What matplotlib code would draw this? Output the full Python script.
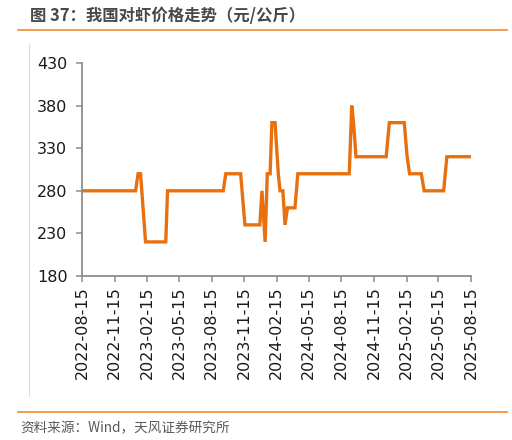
import numpy as np
import pandas as pd
import matplotlib
matplotlib.use("Agg")
import matplotlib.pyplot as plt
from matplotlib.lines import Line2D

plt.rcParams['font.family'] = ['DejaVu Sans', 'Noto Sans CJK SC']

# price of shrimp (yuan/kg)
dates = ["2022-08-15", "2023-01-13", "2023-01-20", "2023-01-27", "2023-02-10",
         "2023-04-08", "2023-04-13", "2023-09-17", "2023-09-24", "2023-11-05",
         "2023-11-17", "2023-12-29", "2024-01-04", "2024-01-13", "2024-01-19",
         "2024-01-27", "2024-02-01", "2024-02-10", "2024-02-19", "2024-02-24",
         "2024-03-03", "2024-03-09", "2024-03-16", "2024-04-06", "2024-04-14",
         "2024-09-06", "2024-09-13", "2024-09-18", "2024-09-25", "2024-12-19",
         "2024-12-28", "2025-02-08", "2025-02-16", "2025-02-23", "2025-03-28",
         "2025-04-05", "2025-05-30", "2025-06-08", "2025-08-15"]
prices = [280, 280, 300, 300, 220,
          220, 280, 280, 300, 300,
          240, 240, 280, 220, 300,
          300, 360, 360, 300, 280,
          280, 240, 260, 260, 300,
          300, 380, 360, 320, 320,
          360, 360, 320, 300, 300,
          280, 280, 320, 320]

tick_dates = ["2022-08-15", "2022-11-15", "2023-02-15", "2023-05-15", "2023-08-15",
              "2023-11-15", "2024-02-15", "2024-05-15", "2024-08-15", "2024-11-15",
              "2025-02-15", "2025-05-15", "2025-08-15"]
y_ticks = [180, 230, 280, 330, 380, 430]

orange = '#E8700F'
grey = '#8c8c8c'

fig = plt.figure(figsize=(5.12, 4.4), dpi=100)
ax = fig.add_axes([82/512, 1-276/440, 389/512, 213/440])

x = pd.to_datetime(dates)
ax.plot(x, prices, color=orange, lw=2.4, solid_joinstyle='miter')

ax.set_xlim(pd.Timestamp(tick_dates[0]), pd.Timestamp(tick_dates[-1]))
ax.set_ylim(180, 430)
ax.set_yticks(y_ticks)
ax.set_xticks(pd.to_datetime(tick_dates))
ax.set_xticklabels(tick_dates, rotation=90)

for s in ['top', 'right']:
    ax.spines[s].set_visible(False)
for s in ['left', 'bottom']:
    ax.spines[s].set_color(grey)
    ax.spines[s].set_linewidth(1.3)
ax.tick_params(axis='both', colors=grey, length=4.5, width=1.1, labelcolor='#1a1a1a', labelsize=11.5)
ax.tick_params(axis='y', pad=6)
ax.tick_params(axis='x', pad=3)

# title + decoration lines
fig.text(30/512, 1-16/440, "图 37：我国对虾价格走势（元/公斤）", fontsize=11.8, fontweight='bold',
         family=['Noto Sans CJK SC', 'DejaVu Sans'], color='#484848', va='center', ha='left')
fig.add_artist(Line2D([18/512, 507/512], [1-30.5/440, 1-30.5/440], color='#F28A2E', lw=1.2))
fig.add_artist(Line2D([28.5/512, 28.5/512], [1-44/440, 1-396/440], color='#dddddd', lw=0.8))
fig.add_artist(Line2D([18/512, 507/512], [1-411.5/440, 1-411.5/440], color='#F28A2E', lw=1.2))
fig.text(20/512, 1-428/440, "资料来源：Wind，天风证券研究所", fontsize=9.8,
         family=['Noto Sans CJK SC', 'DejaVu Sans'], color='#5a5a5a', va='center', ha='left')

fig.savefig("out.png", dpi=100)
